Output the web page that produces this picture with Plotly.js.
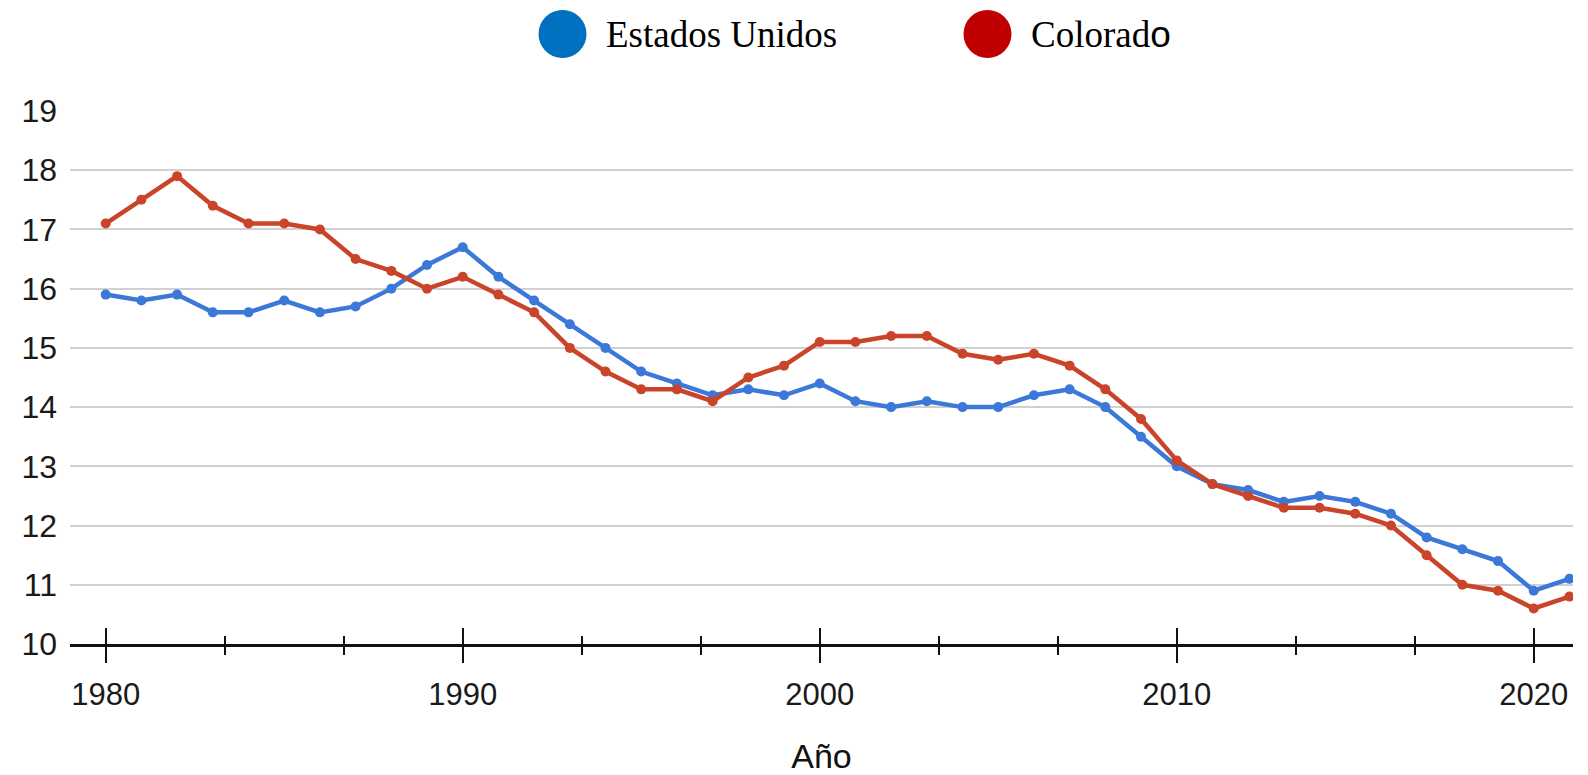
<!DOCTYPE html>
<html>
<head>
<meta charset="utf-8">
<script src="https://cdn.plot.ly/plotly-3.0.1.min.js"></script>
<style>
  html, body { margin: 0; padding: 0; background: #ffffff; }
  #chart { width: 1588px; height: 775px; }
</style>
</head>
<body>
<div id="chart"></div>
<script>
// ---- Data ----
const years = [1980,1981,1982,1983,1984,1985,1986,1987,1988,1989,
               1990,1991,1992,1993,1994,1995,1996,1997,1998,1999,
               2000,2001,2002,2003,2004,2005,2006,2007,2008,2009,
               2010,2011,2012,2013,2014,2015,2016,2017,2018,2019,
               2020,2021];
const estadosUnidos = [15.9,15.8,15.9,15.6,15.6,15.8,15.6,15.7,16.0,16.4,
                       16.7,16.2,15.8,15.4,15.0,14.6,14.4,14.2,14.3,14.2,
                       14.4,14.1,14.0,14.1,14.0,14.0,14.2,14.3,14.0,13.5,
                       13.0,12.7,12.6,12.4,12.5,12.4,12.2,11.8,11.6,11.4,
                       10.9,11.1];
const colorado = [17.1,17.5,17.9,17.4,17.1,17.1,17.0,16.5,16.3,16.0,
                  16.2,15.9,15.6,15.0,14.6,14.3,14.3,14.1,14.5,14.7,
                  15.1,15.1,15.2,15.2,14.9,14.8,14.9,14.7,14.3,13.8,
                  13.1,12.7,12.5,12.3,12.3,12.2,12.0,11.5,11.0,10.9,
                  10.6,10.8];
const seriesNames = ["Estados Unidos", "Colorado"];
const xTickVals = [1980, 1990, 2000, 2010, 2020];
const xTickText = ["1980", "1990", "2000", "2010", "2020"];
const yTickVals = [10, 11, 12, 13, 14, 15, 16, 17, 18, 19];
const xTitle = "Año";

// ---- Styles ----
const lineColors = ["#3C78D8", "#C9442A"];
const legendColors = ["#0070C0", "#C00000"];
const xRange = [1979.0, 2021.1];
const yRange = [10, 19];

const traces = [
  {
    x: years, y: estadosUnidos, name: seriesNames[0], type: "scatter", mode: "lines+markers",
    line: { color: lineColors[0], width: 4.5 },
    marker: { color: lineColors[0], size: 10 },
    xaxis: "x", yaxis: "y"
  },
  {
    x: years, y: colorado, name: seriesNames[1], type: "scatter", mode: "lines+markers",
    line: { color: lineColors[1], width: 4.5 },
    marker: { color: lineColors[1], size: 10 },
    xaxis: "x", yaxis: "y"
  }
];

// Plot box in pixels (for paper conversions of the custom legend)
const W = 1588, H = 775;
const mL = 70, mR = 15, mT = 111, mB = 131;
const pw = W - mL - mR, ph = H - mT - mB;
const px2paperX = p => (p - mL) / pw;
const px2paperY = p => (H - mB - p) / ph;

const legendItems = [
  { name: seriesNames[0], color: legendColors[0], cx: 562.5, tx: 604 },
  { name: "Colorad<span style='font-family:Liberation Sans, Arial'>o</span>", color: legendColors[1], cx: 987.5, tx: 1029 }
];
const legendY = 34;

const shapes = legendItems.map(it => ({
  type: "circle", xref: "paper", yref: "paper",
  xsizemode: "pixel", ysizemode: "pixel",
  xanchor: px2paperX(it.cx), yanchor: px2paperY(legendY),
  x0: -24, x1: 24, y0: -24, y1: 24,
  fillcolor: it.color, line: { width: 0 }
}));

const annotations = legendItems.map(it => ({
  text: it.name, xref: "paper", yref: "paper",
  x: px2paperX(it.tx), y: px2paperY(legendY + 1),
  xanchor: "left", yanchor: "middle", showarrow: false,
  font: { family: "Liberation Serif, Times New Roman, serif", size: 37, color: "#000000" }
}));

const layout = {
  width: W, height: H,
  margin: { l: mL, r: mR, t: mT, b: mB, pad: 0 },
  paper_bgcolor: "#ffffff", plot_bgcolor: "#ffffff",
  showlegend: false,
  font: { family: "Liberation Sans, Arial, sans-serif", color: "#1a1a1a" },
  xaxis: {
    range: xRange, type: "linear",
    tickmode: "array", tickvals: xTickVals, ticktext: xTickText,
    ticks: "outside", ticklen: 16, tickwidth: 2, tickcolor: "#111111",
    minor: { tickmode: "linear", tick0: 1980, dtick: 10 / 3, ticks: "outside", ticklen: 8, tickwidth: 2, tickcolor: "#111111", showgrid: false },
    showgrid: false, zeroline: false,
    showline: true, linecolor: "#111111", linewidth: 2.5,
    tickfont: { size: 31, color: "#1a1a1a" },
    ticklabelstandoff: 5,
    title: { text: xTitle, font: { size: 34, color: "#111111" }, standoff: 42 },
    automargin: false, fixedrange: true
  },
  xaxis2: {
    overlaying: "x", anchor: "y", side: "bottom",
    range: xRange, type: "linear",
    tickmode: "array", tickvals: xTickVals,
    ticks: "inside", ticklen: 16, tickwidth: 2, tickcolor: "#111111",
    minor: { tickmode: "linear", tick0: 1980, dtick: 10 / 3, ticks: "inside", ticklen: 8, tickwidth: 2, tickcolor: "#111111", showgrid: false },
    showticklabels: false, showgrid: false, zeroline: false, showline: false,
    automargin: false, fixedrange: true
  },
  yaxis: {
    range: yRange, tickmode: "array", tickvals: yTickVals,
    ticks: "", showgrid: true, gridcolor: "#D0D0D0", gridwidth: 2,
    zeroline: false, showline: false,
    tickfont: { size: 32, color: "#1a1a1a" },
    ticklabelstandoff: 12,
    automargin: false, fixedrange: true
  },
  shapes: shapes,
  annotations: annotations
};

// invisible helper trace so that the overlay axis (inner tick halves) is drawn
traces.push({ x: [xRange[0]], y: [yRange[0]], xaxis: "x2", yaxis: "y", mode: "markers",
  marker: { opacity: 0 }, hoverinfo: "skip", showlegend: false, type: "scatter" });

Plotly.newPlot("chart", traces, layout, { displayModeBar: false, staticPlot: true });
</script>
</body>
</html>
